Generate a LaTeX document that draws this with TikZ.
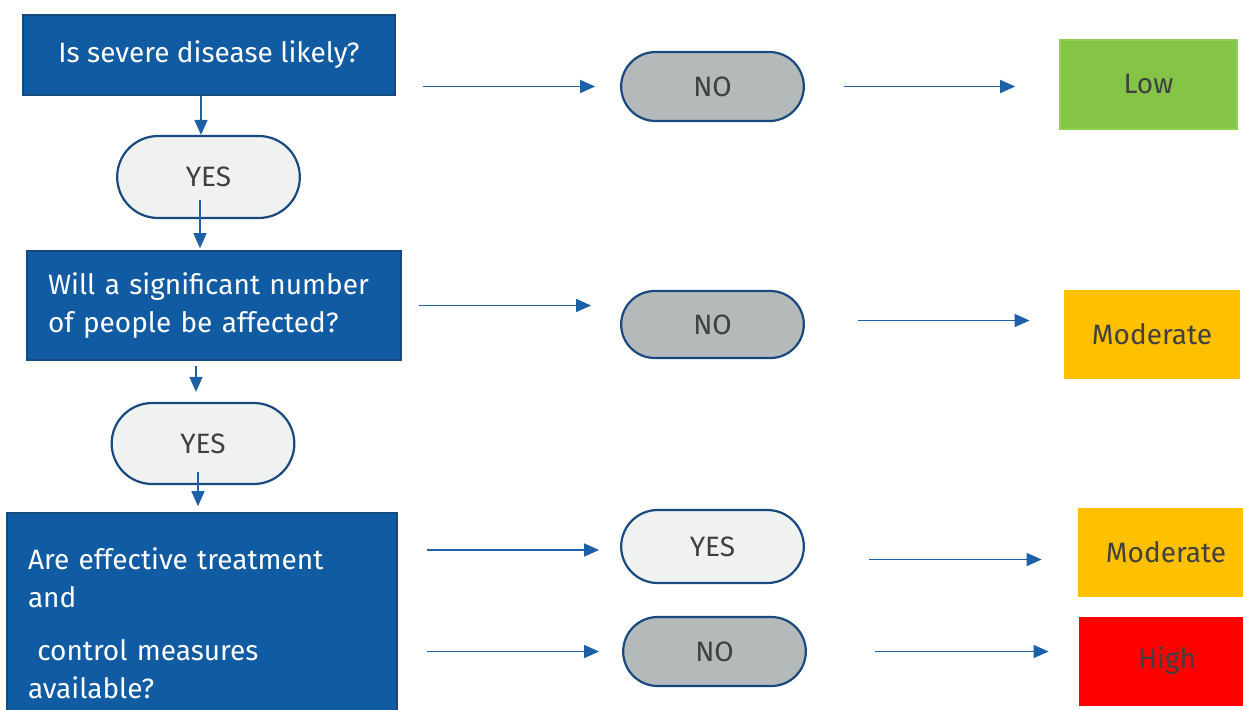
\documentclass[tikz,border=0pt]{standalone}
\usepackage{fontspec}
\setmainfont{Fira Sans}
\usetikzlibrary{shapes.misc,arrows.meta}

\definecolor{qblue}{RGB}{17,91,163}
\definecolor{qedge}{RGB}{22,72,128}
\definecolor{pilledge}{RGB}{24,74,128}
\definecolor{pillyes}{RGB}{240,242,242}
\definecolor{pillno}{RGB}{180,185,185}
\definecolor{arrowblue}{RGB}{28,96,168}
\definecolor{darktext}{RGB}{64,64,64}
\definecolor{lowgreen}{RGB}{132,196,70}
\definecolor{lowedge}{RGB}{146,208,80}
\definecolor{modyellow}{RGB}{255,192,0}
\definecolor{highred}{RGB}{255,0,0}

\newcommand\boxfont{\fontsize{14}{19}\selectfont\hyphenpenalty10000\relax}

\tikzset{
  txt/.style={font=\boxfont},
  question/.style={txt, draw=qedge, line width=0.8pt, fill=qblue, text=white,
    rectangle, inner xsep=10.5pt},
  pill/.style={txt, draw=pilledge, line width=1.1pt, rounded rectangle,
    minimum width=98pt, text=darktext},
  outcome/.style={txt, rectangle, minimum width=88pt, minimum height=44.5pt,
    text=darktext},
  flow/.style={draw=arrowblue, line width=0.75pt,
    -{Triangle[length=7.5pt,width=6.5pt]}}
}

\begin{document}
\begin{tikzpicture}[x=0.5pt, y=-0.5pt]
	\useasboundingbox (0,0) rectangle (1243,709);
	\clip (0,0) rectangle (1243,709);
	
	% ---- Questions ----
	\node[question, minimum width=186pt, minimum height=40pt] (q1) at (209,55)
		{Is severe disease likely?};
	\node[question, text width=166pt, align=left, minimum height=54.5pt] (q2) at (214,305.5)
		{Will a significant number\\of people be affected?};
	\node[question, text width=174pt, align=left, minimum height=110.5pt] (q3) at (202,623.5)
		{Are effective treatment\\and\\[7.5pt]\ control measures\\available?};
	
	% ---- Answers ----
	\node[pill, fill=pillyes, minimum height=41pt] (yes1) at (208.5,177) {YES};
	\node[pill, fill=pillyes, minimum height=40.5pt] (yes2) at (203,443.5) {YES};
	\foreach \x/\y/\h/\name/\col/\txt in {
		712.5/86.5/34.5/no1/pillno/NO,
		712.5/324.5/33.5/no2/pillno/NO,
		712.5/546.5/36.5/yes3/pillyes/YES,
		714.5/651.5/34.5/no3/pillno/NO
	}
	{
		\node[pill, fill=\col, minimum height=\h pt] (\name) at (\x,\y) {\txt};
	}
	
	% ---- Risk levels ----
	\node[outcome, fill=lowgreen, draw=lowedge, line width=0.8pt, minimum width=88.5pt] (low) at (1148.5,84.5) {Low};
	\node[outcome, fill=modyellow] (mod1) at (1152,334.5) {Moderate};
	\node[outcome, fill=modyellow] (mod2) at (1166,552) {Moderate};
	\node[outcome, fill=highred] (high) at (1167,661) {High};
	
	% ---- Downward flow ----
	\coordinate (d1) at ([xshift=-4pt]q1.south);
	\coordinate (d2) at ([xshift=-4.25pt]yes1.south);
	\coordinate (d3) at ([xshift=-9pt]q2.south);
	\coordinate (d4) at ([xshift=-2.5pt]yes2.south);
	\draw[flow] (d1) -- (d1 |- yes1.north);
	\draw[flow, shorten <=-9.5pt, shorten >=1pt] (d2) -- (d2 |- q2.north);
	\draw[flow, shorten <=2.5pt, shorten >=5pt] (d3) -- (d3 |- yes2.north);
	\draw[flow, shorten <=-6.5pt, shorten >=3pt] (d4) -- (d4 |- q3.north);
	
	% ---- Questions to answers ----
	\coordinate (l3) at ([yshift=-1.75pt]q3.east |- yes3.west);
	\draw[flow, shorten <=13.5pt, shorten >=12.5pt] (q1.east |- no1.west) -- (no1.west);
	\draw[flow, shorten <=8.5pt, shorten >=14.5pt] (q2.east) -- (q2.east -| no2.west);
	\draw[flow, shorten <=14.5pt, shorten >=10.5pt] (l3) -- (l3 -| yes3.west);
	\draw[flow, shorten <=14.5pt, shorten >=11.5pt] (q3.east |- no3.west) -- (no3.west);
	
	% ---- Answers to risk levels ----
	\coordinate (r2) at ([yshift=2pt]no2.east);
	\coordinate (r3) at ([yshift=-6.5pt]yes3.east);
	\draw[flow, shorten <=19.5pt, shorten >=22pt] (no1.east) -- (no1.east -| low.west);
	\draw[flow, shorten <=26.5pt, shorten >=17pt] (r2) -- (r2 -| mod1.west);
	\draw[flow, shorten <=32pt, shorten >=18pt] (r3) -- (r3 -| mod2.west);
	\draw[flow, shorten <=34pt, shorten >=15pt] (no3.east) -- (no3.east -| high.west);
	
\end{tikzpicture}
\end{document}
